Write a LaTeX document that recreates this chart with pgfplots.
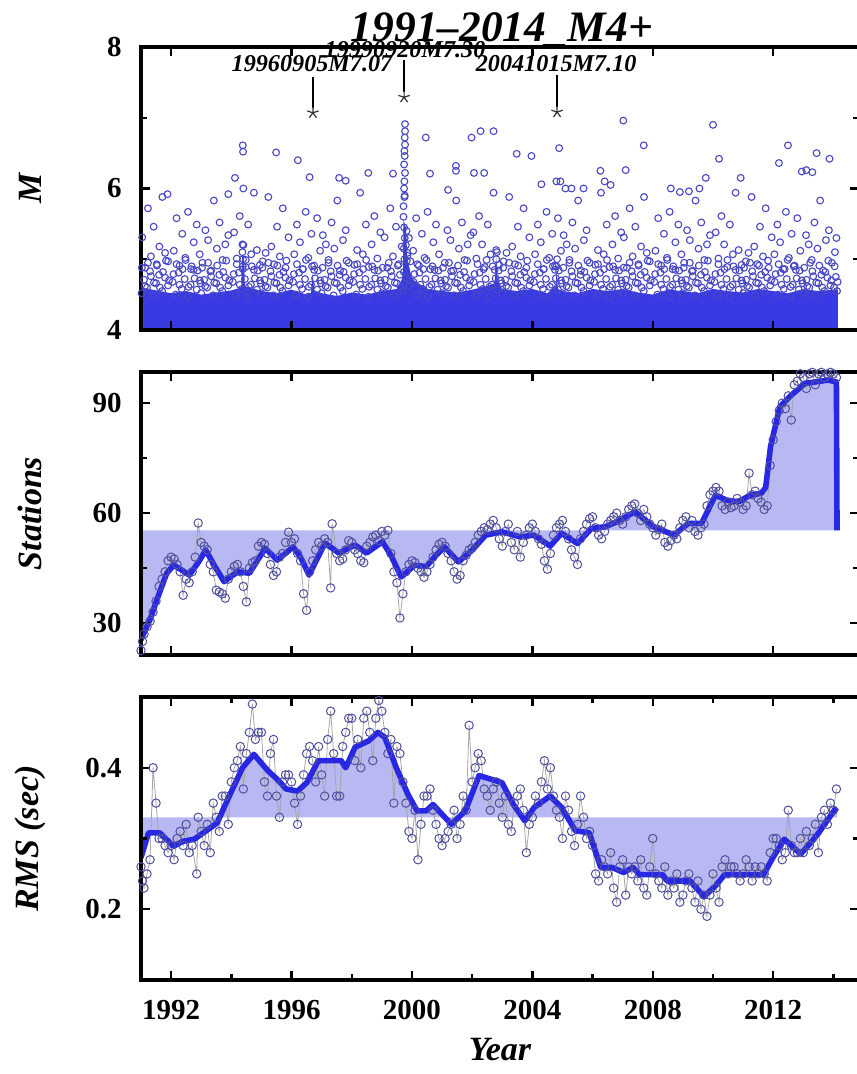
\documentclass[border=0pt]{standalone}
\usepackage{fontspec}
\setmainfont{Liberation Serif}
\usepackage{pgfplots}
\usepackage{pgfplotstable}
\pgfplotsset{compat=1.18}

\definecolor{cblue}{RGB}{40,40,228}
\definecolor{band}{RGB}{184,184,242}
\definecolor{mk}{RGB}{80,80,160}
\definecolor{mk1}{RGB}{72,72,196}
\definecolor{dense}{RGB}{58,58,228}
\definecolor{thinln}{RGB}{165,165,165}

\pgfplotstableread{
x y
1991.0 25.5
1991.3 31
1991.6 38
1991.85 43.5
1992.08 45.8
1992.35 44.5
1992.6 43.1
1992.9 46.5
1993.15 49.9
1993.45 45.5
1993.76 41.3
1994.0 42.8
1994.22 44
1994.6 43.6
1994.9 47.5
1995.13 50.4
1995.52 47.2
1995.8 49
1996.05 50.8
1996.3 48
1996.58 43.1
1996.85 47.5
1997.11 51.8
1997.58 49.1
1998.11 51.3
1998.49 49.1
1999.02 52.2
1999.3 48.5
1999.64 42.6
2000.09 45.8
2000.47 45.4
2000.8 48.5
2001.08 50.8
2001.54 46.7
2002.0 49.9
2002.45 54
2002.99 54.9
2003.6 53.5
2004.05 54
2004.59 51
2004.97 54.5
2005.5 51.7
2005.96 55.8
2006.42 56.3
2006.8 57.6
2007.41 60.4
2008.02 56.3
2008.71 54
2009.17 57.2
2009.62 57.2
2010.08 64.9
2010.47 63.5
2010.85 63.1
2011.23 64.9
2011.6 65.4
2011.75 67
2011.91 78.1
2012.22 89
2012.6 92.2
2013.06 95.4
2013.82 96.3
2014.1 95.8
2014.12 55.3
}\curveS

\pgfplotstableread{
x y
1991.0 55.3
1991.0 25.5
1991.3 31
1991.6 38
1991.85 43.5
1992.08 45.8
1992.35 44.5
1992.6 43.1
1992.9 46.5
1993.15 49.9
1993.45 45.5
1993.76 41.3
1994.0 42.8
1994.22 44
1994.6 43.6
1994.9 47.5
1995.13 50.4
1995.52 47.2
1995.8 49
1996.05 50.8
1996.3 48
1996.58 43.1
1996.85 47.5
1997.11 51.8
1997.58 49.1
1998.11 51.3
1998.49 49.1
1999.02 52.2
1999.3 48.5
1999.64 42.6
2000.09 45.8
2000.47 45.4
2000.8 48.5
2001.08 50.8
2001.54 46.7
2002.0 49.9
2002.45 54
2002.99 54.9
2003.6 53.5
2004.05 54
2004.59 51
2004.97 54.5
2005.5 51.7
2005.96 55.8
2006.42 56.3
2006.8 57.6
2007.41 60.4
2008.02 56.3
2008.71 54
2009.17 57.2
2009.62 57.2
2010.08 64.9
2010.47 63.5
2010.85 63.1
2011.23 64.9
2011.6 65.4
2011.75 67
2011.91 78.1
2012.22 89
2012.6 92.2
2013.06 95.4
2013.82 96.3
2014.1 95.8
2014.12 55.3
}\bandS

\pgfplotstableread{
x y
1991.0 22.5
1991.05 25
1991.1 27
1991.2 29
1991.3 30.5
1991.4 33
1991.5 36
1991.6 40
1991.7 42
1991.8 44
1991.9 47
1992.0 48
1992.1 47.5
1992.2 46
1992.3 44
1992.4 37.6
1992.5 42
1992.6 41
1992.7 44
1992.8 48
1992.9 57.3
1993.0 52
1993.1 51
1993.2 50
1993.3 46
1993.4 44
1993.5 39
1993.6 38.5
1993.7 38
1993.8 36.8
1993.9 42
1994.0 44
1994.1 45.5
1994.2 46
1994.3 44
1994.4 40
1994.5 35.8
1994.6 45
1994.7 46.5
1994.8 47
1994.9 51
1995.0 52
1995.1 51.5
1995.2 49
1995.3 46
1995.4 43
1995.5 44
1995.6 48
1995.7 49
1995.8 52
1995.9 54.8
1996.0 52
1996.1 53
1996.2 49
1996.3 47
1996.4 38
1996.5 33.5
1996.6 44
1996.7 47
1996.8 50
1996.9 52
1997.0 51
1997.1 53
1997.2 52
1997.3 39.6
1997.35 57.1
1997.5 49
1997.6 47
1997.7 47.5
1997.8 50
1997.9 52.5
1998.0 52
1998.1 50
1998.2 49
1998.3 47
1998.4 46.5
1998.5 51
1998.6 52
1998.7 53.5
1998.8 54
1998.9 52.5
1999.0 55
1999.1 54
1999.2 55.3
1999.3 49
1999.4 44
1999.5 41
1999.6 31.4
1999.7 38
1999.8 44
1999.9 46
2000.0 47
2000.1 46.5
2000.2 45
2000.3 44
2000.4 42.5
2000.5 44
2000.6 46
2000.7 48
2000.8 50
2000.9 51.5
2001.0 52
2001.1 51
2001.2 49
2001.3 47
2001.4 44
2001.5 42
2001.6 43
2001.7 47
2001.8 48.5
2001.9 50
2002.0 50.5
2002.1 52
2002.2 54
2002.3 55
2002.4 56
2002.5 55.5
2002.6 57
2002.7 58
2002.8 56
2002.9 53
2003.0 51
2003.1 55
2003.2 57
2003.3 52
2003.4 50
2003.5 55
2003.6 48
2003.7 52
2003.8 54
2003.9 56
2004.0 57
2004.1 55
2004.2 53
2004.3 51.5
2004.4 47
2004.5 44.7
2004.6 49
2004.7 54
2004.8 56
2004.9 57
2005.0 58
2005.1 55
2005.2 53
2005.3 50
2005.4 48
2005.5 46
2005.6 53
2005.7 55
2005.8 57
2005.9 58.5
2006.0 59
2006.1 56
2006.2 54
2006.3 53
2006.4 55
2006.5 57
2006.6 58
2006.7 59
2006.8 60
2006.9 58
2007.0 57
2007.1 59
2007.2 61
2007.3 62
2007.4 62.5
2007.5 60
2007.6 58
2007.7 61
2007.8 59
2007.9 57
2008.0 56
2008.1 54
2008.2 55.5
2008.3 57
2008.4 52
2008.5 51
2008.6 52.5
2008.7 54
2008.8 53
2008.9 56
2009.0 58
2009.1 59
2009.2 56
2009.3 58
2009.4 55
2009.5 54
2009.6 56
2009.7 57
2009.8 62
2009.9 65
2010.0 66
2010.1 67
2010.2 66
2010.3 62
2010.4 61
2010.5 63
2010.6 61.5
2010.7 62
2010.8 64
2010.9 63
2011.0 61
2011.1 62
2011.2 70.9
2011.3 65
2011.4 66
2011.5 64
2011.6 63
2011.7 61
2011.8 62
2011.9 73
2012.0 80
2012.1 85
2012.2 88
2012.3 90
2012.4 88.5
2012.5 92
2012.6 85.4
2012.7 95
2012.8 96
2012.9 98
2013.0 97
2013.1 94
2013.2 98
2013.3 98.4
2013.4 95
2013.5 98
2013.6 98.4
2013.7 97
2013.8 98
2013.9 98.4
2014.0 98
2014.1 97
}\ptsS

\pgfplotstableread{
x y
1991.0 0.273
1991.25 0.308
1991.62 0.308
1992.08 0.289
1992.39 0.296
1992.77 0.299
1993.07 0.308
1993.53 0.322
1993.91 0.358
1994.37 0.400
1994.75 0.419
1995.21 0.396
1995.52 0.384
1995.82 0.370
1996.2 0.367
1996.51 0.379
1996.89 0.41
1997.65 0.41
1997.8 0.40
1998.11 0.429
1998.56 0.438
1998.87 0.45
1999.1 0.443
1999.48 0.40
1999.86 0.363
2000.17 0.339
2000.47 0.339
2000.7 0.348
2001.31 0.32
2001.77 0.339
2002.23 0.389
2002.99 0.379
2003.37 0.348
2003.75 0.325
2004.06 0.344
2004.59 0.36
2004.97 0.344
2005.43 0.311
2005.89 0.308
2006.27 0.259
2006.65 0.259
2007.03 0.252
2007.34 0.259
2007.56 0.249
2008.32 0.249
2008.48 0.240
2009.24 0.240
2009.7 0.218
2010.08 0.233
2010.39 0.249
2011.68 0.249
2011.99 0.273
2012.37 0.299
2012.91 0.278
2013.21 0.292
2013.51 0.308
2013.82 0.327
2014.05 0.341
2014.12 0.338
}\curveR

\pgfplotstableread{
x y
1991.0 0.33
1991.0 0.273
1991.25 0.308
1991.62 0.308
1992.08 0.289
1992.39 0.296
1992.77 0.299
1993.07 0.308
1993.53 0.322
1993.91 0.358
1994.37 0.400
1994.75 0.419
1995.21 0.396
1995.52 0.384
1995.82 0.370
1996.2 0.367
1996.51 0.379
1996.89 0.41
1997.65 0.41
1997.8 0.40
1998.11 0.429
1998.56 0.438
1998.87 0.45
1999.1 0.443
1999.48 0.40
1999.86 0.363
2000.17 0.339
2000.47 0.339
2000.7 0.348
2001.31 0.32
2001.77 0.339
2002.23 0.389
2002.99 0.379
2003.37 0.348
2003.75 0.325
2004.06 0.344
2004.59 0.36
2004.97 0.344
2005.43 0.311
2005.89 0.308
2006.27 0.259
2006.65 0.259
2007.03 0.252
2007.34 0.259
2007.56 0.249
2008.32 0.249
2008.48 0.240
2009.24 0.240
2009.7 0.218
2010.08 0.233
2010.39 0.249
2011.68 0.249
2011.99 0.273
2012.37 0.299
2012.91 0.278
2013.21 0.292
2013.51 0.308
2013.82 0.327
2014.05 0.341
2014.12 0.338
2014.12 0.33
}\bandR

\pgfplotstableread{
x y
1991.0 0.26
1991.05 0.24
1991.1 0.23
1991.2 0.25
1991.3 0.27
1991.4 0.40
1991.5 0.35
1991.6 0.30
1991.7 0.30
1991.8 0.29
1991.9 0.28
1992.0 0.29
1992.1 0.27
1992.2 0.30
1992.3 0.31
1992.4 0.29
1992.5 0.32
1992.6 0.28
1992.7 0.29
1992.85 0.25
1992.9 0.33
1993.0 0.31
1993.1 0.29
1993.2 0.32
1993.3 0.28
1993.4 0.35
1993.5 0.33
1993.6 0.31
1993.7 0.36
1993.8 0.36
1993.9 0.32
1994.0 0.38
1994.1 0.40
1994.2 0.41
1994.3 0.43
1994.4 0.37
1994.5 0.42
1994.6 0.45
1994.7 0.49
1994.8 0.44
1994.9 0.45
1995.0 0.45
1995.1 0.38
1995.2 0.36
1995.3 0.42
1995.4 0.44
1995.5 0.36
1995.6 0.33
1995.7 0.38
1995.8 0.39
1995.9 0.39
1996.0 0.38
1996.1 0.35
1996.2 0.32
1996.3 0.36
1996.4 0.39
1996.5 0.42
1996.6 0.43
1996.7 0.41
1996.8 0.38
1996.9 0.43
1997.0 0.39
1997.1 0.36
1997.2 0.44
1997.3 0.48
1997.4 0.42
1997.5 0.36
1997.6 0.36
1997.7 0.43
1997.8 0.45
1997.9 0.47
1998.0 0.47
1998.1 0.41
1998.2 0.44
1998.3 0.40
1998.4 0.47
1998.5 0.48
1998.6 0.45
1998.7 0.41
1998.8 0.47
1998.9 0.495
1999.0 0.48
1999.1 0.45
1999.2 0.42
1999.3 0.44
1999.4 0.35
1999.5 0.43
1999.6 0.42
1999.7 0.38
1999.8 0.35
1999.9 0.31
2000.0 0.30
2000.1 0.34
2000.2 0.27
2000.3 0.32
2000.4 0.36
2000.5 0.36
2000.6 0.37
2000.7 0.34
2000.8 0.32
2000.9 0.30
2001.0 0.29
2001.1 0.30
2001.2 0.31
2001.3 0.32
2001.4 0.34
2001.5 0.30
2001.6 0.32
2001.7 0.36
2001.8 0.34
2001.9 0.46
2002.0 0.38
2002.1 0.40
2002.2 0.42
2002.3 0.41
2002.4 0.37
2002.5 0.36
2002.6 0.34
2002.7 0.37
2002.8 0.38
2002.9 0.35
2003.0 0.33
2003.1 0.36
2003.2 0.32
2003.3 0.31
2003.4 0.35
2003.5 0.36
2003.6 0.37
2003.7 0.34
2003.8 0.28
2003.9 0.32
2004.0 0.33
2004.1 0.36
2004.2 0.35
2004.3 0.38
2004.4 0.41
2004.5 0.37
2004.6 0.40
2004.7 0.36
2004.8 0.34
2004.9 0.33
2005.0 0.30
2005.1 0.36
2005.2 0.34
2005.3 0.31
2005.4 0.29
2005.5 0.32
2005.6 0.36
2005.7 0.33
2005.8 0.30
2005.9 0.31
2006.0 0.29
2006.1 0.25
2006.2 0.24
2006.3 0.27
2006.4 0.26
2006.5 0.25
2006.6 0.28
2006.7 0.23
2006.8 0.21
2006.9 0.26
2007.0 0.27
2007.1 0.22
2007.2 0.26
2007.3 0.25
2007.4 0.26
2007.5 0.24
2007.6 0.27
2007.7 0.23
2007.8 0.22
2007.9 0.26
2008.0 0.30
2008.1 0.25
2008.2 0.24
2008.3 0.23
2008.4 0.26
2008.5 0.22
2008.6 0.24
2008.7 0.23
2008.8 0.25
2008.9 0.21
2009.0 0.22
2009.1 0.24
2009.2 0.25
2009.3 0.23
2009.4 0.21
2009.5 0.24
2009.6 0.20
2009.7 0.22
2009.8 0.19
2009.9 0.22
2010.0 0.25
2010.1 0.23
2010.2 0.21
2010.3 0.26
2010.4 0.27
2010.5 0.25
2010.6 0.26
2010.7 0.26
2010.8 0.25
2010.9 0.24
2011.0 0.25
2011.1 0.27
2011.2 0.26
2011.3 0.24
2011.4 0.26
2011.5 0.25
2011.6 0.26
2011.7 0.25
2011.8 0.24
2011.9 0.28
2012.0 0.30
2012.1 0.30
2012.2 0.29
2012.3 0.27
2012.4 0.28
2012.5 0.34
2012.6 0.29
2012.7 0.28
2012.8 0.28
2012.9 0.30
2013.0 0.28
2013.1 0.31
2013.2 0.29
2013.3 0.30
2013.4 0.32
2013.5 0.28
2013.6 0.33
2013.7 0.34
2013.8 0.32
2013.9 0.35
2014.0 0.34
2014.1 0.37
}\ptsR

\pgfplotsset{
  base/.style={
    scale only axis, width=359pt, height=141.5pt,
    xmin=1991, xmax=2014.85,
    axis on top,
    axis line style={line width=1.6pt},
    every tick/.append style={black, line width=1.2pt},
    major tick length=4.5pt, minor tick length=3pt,
    tick align=inside,
    xtick={1992,1996,...,2012},
    /pgf/number format/assume math mode=true,
    /pgf/number format/1000 sep={},
    tick label style={font=\fontsize{14.5}{16}\selectfont\bfseries},
    yticklabel style={anchor=east, inner sep=0pt, xshift=-9.5pt},
    xticklabel style={anchor=north, inner sep=0pt, yshift=-10pt},
    ylabel style={at={(axis description cs:-0.1546,0.5)}, anchor=center, font=\fontsize{17}{19}\selectfont\bfseries\itshape},
    xlabel style={at={(axis description cs:0.5,-0.247)}, anchor=center, font=\fontsize{17}{19}\selectfont\bfseries\itshape},
  },
  scat/.style={only marks, mark=o, mark size=1.7pt, mark options={draw=mk1, line width=0.55pt}},
}
\tikzset{ann/.style={font=\fontsize{12.1}{13}\selectfont\bfseries\itshape, anchor=center, inner sep=0pt}}

\begin{document}
\begin{tikzpicture}
\path[use as bounding box] (0,0) rectangle (428pt,-537pt);

% ---------------- Panel 1: magnitude ----------------
\begin{axis}[base, at={(70.5pt,-23.5pt)}, anchor=north west,
  ymin=4, ymax=8, ytick={4,6,8}, minor ytick={5,7},
  xticklabels={}, ylabel={M}, clip=false]
% dense cloud of small events
\addplot[fill=dense, draw=none] coordinates {
(1991,4) (1991,4.6)(1991.5,4.56)(1992,4.52)(1992.5,4.55)(1993,4.5)(1993.5,4.53)(1994,4.56)(1994.33,4.6)(1994.36,5.05)(1994.42,5.05)(1994.45,4.62)(1995,4.55)(1995.5,4.52)(1996,4.57)(1996.5,4.5)(1996.65,4.53)(1996.7,4.8)(1996.75,4.56)(1997,4.52)(1997.5,4.48)(1998,4.53)(1998.5,4.5)(1999,4.55)(1999.5,4.58)(1999.7,4.75)(1999.72,5.55)(1999.8,5.45)(1999.85,5.0)(2000,4.72)(2000.5,4.58)(2001,4.55)(2001.5,4.53)(2002,4.57)(2002.5,4.62)(2002.75,4.66)(2002.8,5.02)(2002.85,4.7)(2003,4.58)(2003.5,4.55)(2004,4.58)(2004.5,4.52)(2004.78,4.62)(2004.8,4.85)(2004.85,4.58)(2005,4.55)(2005.5,4.52)(2006,4.58)(2006.5,4.55)(2007,4.58)(2007.5,4.53)(2008,4.5)(2008.5,4.57)(2009,4.55)(2009.5,4.52)(2010,4.58)(2010.5,4.55)(2011,4.53)(2011.5,4.58)(2012,4.55)(2012.5,4.52)(2013,4.58)(2013.5,4.55)(2014,4.57)(2014.15,4.57)(2014.15,4)
};
% low-level events
\addplot[scat] coordinates {
(1991.02,4.52)(1991.1,4.71)(1991.2,4.6)(1991.3,4.83)(1991.4,4.49)(1991.5,4.66)(1991.6,4.78)(1991.7,4.55)(1991.8,4.74)(1991.9,4.63)
(1992.05,4.68)(1992.15,4.5)(1992.25,4.81)(1992.35,4.58)(1992.45,4.72)(1992.55,4.47)(1992.65,4.64)(1992.75,4.85)(1992.85,4.57)(1992.95,4.7)
(1993.0,4.52)(1993.1,4.71)(1993.2,4.6)(1993.3,4.83)(1993.4,4.49)(1993.5,4.66)(1993.6,4.78)(1993.7,4.55)(1993.8,4.74)(1993.9,4.63)
(1994.05,4.68)(1994.15,4.5)(1994.25,4.81)(1994.35,4.58)(1994.45,4.72)(1994.55,4.47)(1994.65,4.64)(1994.75,4.85)(1994.85,4.57)(1994.95,4.7)
(1995.0,4.52)(1995.1,4.71)(1995.2,4.6)(1995.3,4.83)(1995.4,4.49)(1995.5,4.66)(1995.6,4.78)(1995.7,4.55)(1995.8,4.74)(1995.9,4.63)
(1996.05,4.68)(1996.15,4.5)(1996.25,4.81)(1996.35,4.58)(1996.45,4.72)(1996.55,4.47)(1996.65,4.64)(1996.75,4.85)(1996.85,4.57)(1996.95,4.7)
(1997.0,4.52)(1997.1,4.71)(1997.2,4.6)(1997.3,4.83)(1997.4,4.49)(1997.5,4.66)(1997.6,4.78)(1997.7,4.55)(1997.8,4.74)(1997.9,4.63)
(1998.05,4.68)(1998.15,4.5)(1998.25,4.81)(1998.35,4.58)(1998.45,4.72)(1998.55,4.47)(1998.65,4.64)(1998.75,4.85)(1998.85,4.57)(1998.95,4.7)
(1999.0,4.52)(1999.1,4.71)(1999.2,4.6)(1999.3,4.83)(1999.4,4.49)(1999.5,4.66)(1999.6,4.78)(1999.7,4.55)(1999.8,4.74)(1999.9,4.63)
(2000.05,4.68)(2000.15,4.5)(2000.25,4.81)(2000.35,4.58)(2000.45,4.72)(2000.55,4.47)(2000.65,4.64)(2000.75,4.85)(2000.85,4.57)(2000.95,4.7)
(2001.0,4.52)(2001.1,4.71)(2001.2,4.6)(2001.3,4.83)(2001.4,4.49)(2001.5,4.66)(2001.6,4.78)(2001.7,4.55)(2001.8,4.74)(2001.9,4.63)
(2002.05,4.68)(2002.15,4.5)(2002.25,4.81)(2002.35,4.58)(2002.45,4.72)(2002.55,4.47)(2002.65,4.64)(2002.75,4.85)(2002.85,4.57)(2002.95,4.7)
(2003.0,4.52)(2003.1,4.71)(2003.2,4.6)(2003.3,4.83)(2003.4,4.49)(2003.5,4.66)(2003.6,4.78)(2003.7,4.55)(2003.8,4.74)(2003.9,4.63)
(2004.05,4.68)(2004.15,4.5)(2004.25,4.81)(2004.35,4.58)(2004.45,4.72)(2004.55,4.47)(2004.65,4.64)(2004.75,4.85)(2004.85,4.57)(2004.95,4.7)
(2005.0,4.52)(2005.1,4.71)(2005.2,4.6)(2005.3,4.83)(2005.4,4.49)(2005.5,4.66)(2005.6,4.78)(2005.7,4.55)(2005.8,4.74)(2005.9,4.63)
(2006.05,4.68)(2006.15,4.5)(2006.25,4.81)(2006.35,4.58)(2006.45,4.72)(2006.55,4.47)(2006.65,4.64)(2006.75,4.85)(2006.85,4.57)(2006.95,4.7)
(2007.0,4.52)(2007.1,4.71)(2007.2,4.6)(2007.3,4.83)(2007.4,4.49)(2007.5,4.66)(2007.6,4.78)(2007.7,4.55)(2007.8,4.74)(2007.9,4.63)
(2008.05,4.68)(2008.15,4.5)(2008.25,4.81)(2008.35,4.58)(2008.45,4.72)(2008.55,4.47)(2008.65,4.64)(2008.75,4.85)(2008.85,4.57)(2008.95,4.7)
(2009.0,4.52)(2009.1,4.71)(2009.2,4.6)(2009.3,4.83)(2009.4,4.49)(2009.5,4.66)(2009.6,4.78)(2009.7,4.55)(2009.8,4.74)(2009.9,4.63)
(2010.05,4.68)(2010.15,4.5)(2010.25,4.81)(2010.35,4.58)(2010.45,4.72)(2010.55,4.47)(2010.65,4.64)(2010.75,4.85)(2010.85,4.57)(2010.95,4.7)
(2011.0,4.52)(2011.1,4.71)(2011.2,4.6)(2011.3,4.83)(2011.4,4.49)(2011.5,4.66)(2011.6,4.78)(2011.7,4.55)(2011.8,4.74)(2011.9,4.63)
(2012.05,4.68)(2012.15,4.5)(2012.25,4.81)(2012.35,4.58)(2012.45,4.72)(2012.55,4.47)(2012.65,4.64)(2012.75,4.85)(2012.85,4.57)(2012.95,4.7)
(2013.0,4.52)(2013.1,4.71)(2013.2,4.6)(2013.3,4.83)(2013.4,4.49)(2013.5,4.66)(2013.6,4.78)(2013.7,4.55)(2013.8,4.74)(2013.9,4.63)
(2014.02,4.6)(2014.05,5.1)(2014.08,4.75)(2014.1,5.3)(2014.12,4.55)(2014.04,4.9)(2014.14,4.68)
};
% intermediate events
\addplot[scat] coordinates {
(1991.03,4.88)(1991.13,4.62)(1991.23,4.95)(1991.33,4.76)(1991.43,4.67)(1991.53,4.91)(1991.63,4.6)(1991.73,4.82)(1991.83,4.98)(1991.93,4.7)
(1992.08,4.79)(1992.18,4.93)(1992.28,4.64)(1992.38,4.86)(1992.48,4.99)(1992.58,4.61)(1992.68,4.9)(1992.78,4.73)(1992.88,4.84)(1992.98,4.66)
(1993.03,4.88)(1993.13,4.62)(1993.23,4.95)(1993.33,4.76)(1993.43,4.67)(1993.53,4.91)(1993.63,4.6)(1993.73,4.82)(1993.83,4.98)(1993.93,4.7)
(1994.08,4.79)(1994.18,4.93)(1994.28,4.64)(1994.38,4.86)(1994.48,4.99)(1994.58,4.61)(1994.68,4.9)(1994.78,4.73)(1994.88,4.84)(1994.98,4.66)
(1995.03,4.88)(1995.13,4.62)(1995.23,4.95)(1995.33,4.76)(1995.43,4.67)(1995.53,4.91)(1995.63,4.6)(1995.73,4.82)(1995.83,4.98)(1995.93,4.7)
(1996.08,4.79)(1996.18,4.93)(1996.28,4.64)(1996.38,4.86)(1996.48,4.99)(1996.58,4.61)(1996.68,4.9)(1996.78,4.73)(1996.88,4.84)(1996.98,4.66)
(1997.03,4.88)(1997.13,4.62)(1997.23,4.95)(1997.33,4.76)(1997.43,4.67)(1997.53,4.91)(1997.63,4.6)(1997.73,4.82)(1997.83,4.98)(1997.93,4.7)
(1998.08,4.79)(1998.18,4.93)(1998.28,4.64)(1998.38,4.86)(1998.48,4.99)(1998.58,4.61)(1998.68,4.9)(1998.78,4.73)(1998.88,4.84)(1998.98,4.66)
(1999.03,4.88)(1999.13,4.62)(1999.23,4.95)(1999.33,4.76)(1999.43,4.67)(1999.53,4.91)(1999.63,4.6)(1999.73,4.82)(1999.83,4.98)(1999.93,4.7)
(2000.08,4.79)(2000.18,4.93)(2000.28,4.64)(2000.38,4.86)(2000.48,4.99)(2000.58,4.61)(2000.68,4.9)(2000.78,4.73)(2000.88,4.84)(2000.98,4.66)
(2001.03,4.88)(2001.13,4.62)(2001.23,4.95)(2001.33,4.76)(2001.43,4.67)(2001.53,4.91)(2001.63,4.6)(2001.73,4.82)(2001.83,4.98)(2001.93,4.7)
(2002.08,4.79)(2002.18,4.93)(2002.28,4.64)(2002.38,4.86)(2002.48,4.99)(2002.58,4.61)(2002.68,4.9)(2002.78,4.73)(2002.88,4.84)(2002.98,4.66)
(2003.03,4.88)(2003.13,4.62)(2003.23,4.95)(2003.33,4.76)(2003.43,4.67)(2003.53,4.91)(2003.63,4.6)(2003.73,4.82)(2003.83,4.98)(2003.93,4.7)
(2004.08,4.79)(2004.18,4.93)(2004.28,4.64)(2004.38,4.86)(2004.48,4.99)(2004.58,4.61)(2004.68,4.9)(2004.78,4.73)(2004.88,4.84)(2004.98,4.66)
(2005.03,4.88)(2005.13,4.62)(2005.23,4.95)(2005.33,4.76)(2005.43,4.67)(2005.53,4.91)(2005.63,4.6)(2005.73,4.82)(2005.83,4.98)(2005.93,4.7)
(2006.08,4.79)(2006.18,4.93)(2006.28,4.64)(2006.38,4.86)(2006.48,4.99)(2006.58,4.61)(2006.68,4.9)(2006.78,4.73)(2006.88,4.84)(2006.98,4.66)
(2007.03,4.88)(2007.13,4.62)(2007.23,4.95)(2007.33,4.76)(2007.43,4.67)(2007.53,4.91)(2007.63,4.6)(2007.73,4.82)(2007.83,4.98)(2007.93,4.7)
(2008.08,4.79)(2008.18,4.93)(2008.28,4.64)(2008.38,4.86)(2008.48,4.99)(2008.58,4.61)(2008.68,4.9)(2008.78,4.73)(2008.88,4.84)(2008.98,4.66)
(2009.03,4.88)(2009.13,4.62)(2009.23,4.95)(2009.33,4.76)(2009.43,4.67)(2009.53,4.91)(2009.63,4.6)(2009.73,4.82)(2009.83,4.98)(2009.93,4.7)
(2010.08,4.79)(2010.18,4.93)(2010.28,4.64)(2010.38,4.86)(2010.48,4.99)(2010.58,4.61)(2010.68,4.9)(2010.78,4.73)(2010.88,4.84)(2010.98,4.66)
(2011.03,4.88)(2011.13,4.62)(2011.23,4.95)(2011.33,4.76)(2011.43,4.67)(2011.53,4.91)(2011.63,4.6)(2011.73,4.82)(2011.83,4.98)(2011.93,4.7)
(2012.08,4.79)(2012.18,4.93)(2012.28,4.64)(2012.38,4.86)(2012.48,4.99)(2012.58,4.61)(2012.68,4.9)(2012.78,4.73)(2012.88,4.84)(2012.98,4.66)
(2013.03,4.88)(2013.13,4.62)(2013.23,4.95)(2013.33,4.76)(2013.43,4.67)(2013.53,4.91)(2013.63,4.6)(2013.73,4.82)(2013.83,4.98)(2013.93,4.7)
};
% larger events
\addplot[scat] coordinates {
(1991.04,5.31)(1991.14,4.88)(1991.23,5.72)(1991.33,5.04)(1991.42,5.46)(1991.52,4.93)(1991.61,5.18)(1991.71,5.88)(1991.80,5.09)(1991.90,4.97)
(1992.09,5.12)(1992.18,5.58)(1992.28,4.91)(1992.37,5.36)(1992.47,5.02)(1992.56,5.67)(1992.66,4.86)(1992.75,5.24)(1992.85,5.49)(1992.95,5.07)
(1993.04,4.95)(1993.14,5.41)(1993.23,5.27)(1993.33,4.84)(1993.42,5.83)(1993.52,5.15)(1993.61,5.52)(1993.71,4.99)(1993.80,5.21)(1993.90,5.34)
(1994.09,5.38)(1994.18,5.01)(1994.28,5.61)(1994.37,5.21)(1994.47,4.89)(1994.56,5.49)(1994.66,5.07)(1994.75,5.94)(1994.85,5.13)(1994.95,4.92)
(1995.04,4.97)(1995.14,5.09)(1995.23,5.88)(1995.33,5.18)(1995.42,4.93)(1995.52,5.46)(1995.61,5.04)(1995.71,5.72)(1995.80,4.88)(1995.90,5.31)
(1996.09,5.07)(1996.18,5.49)(1996.28,5.24)(1996.37,4.86)(1996.47,5.67)(1996.56,5.02)(1996.66,5.36)(1996.75,4.91)(1996.85,5.58)(1996.95,5.12)
(1997.04,5.34)(1997.14,5.21)(1997.23,4.99)(1997.33,5.52)(1997.42,5.15)(1997.52,5.83)(1997.61,4.84)(1997.71,5.27)(1997.80,5.41)(1997.90,4.95)
(1998.09,4.92)(1998.18,5.13)(1998.28,5.94)(1998.37,5.07)(1998.47,5.49)(1998.56,4.89)(1998.66,5.21)(1998.75,5.61)(1998.85,5.01)(1998.95,5.38)
(1999.09,5.31)(1999.18,4.88)(1999.28,5.72)(1999.37,5.04)(1999.47,5.46)(1999.56,4.93)(1999.66,5.18)(1999.75,5.88)(1999.85,5.09)(1999.95,4.97)
(2000.04,5.12)(2000.14,5.58)(2000.23,4.91)(2000.33,5.36)(2000.42,5.02)(2000.52,5.67)(2000.61,4.86)(2000.71,5.24)(2000.80,5.49)(2000.90,5.07)
(2001.09,4.95)(2001.18,5.41)(2001.28,5.27)(2001.37,4.84)(2001.47,5.83)(2001.56,5.15)(2001.66,5.52)(2001.75,4.99)(2001.85,5.21)(2001.95,5.34)
(2002.04,5.38)(2002.14,5.01)(2002.23,5.61)(2002.33,5.21)(2002.42,4.89)(2002.52,5.49)(2002.61,5.07)(2002.71,5.94)(2002.80,5.13)(2002.90,4.92)
(2003.04,4.97)(2003.14,5.09)(2003.23,5.88)(2003.33,5.18)(2003.42,4.93)(2003.52,5.46)(2003.61,5.04)(2003.71,5.72)(2003.80,4.88)(2003.90,5.31)
(2004.09,5.07)(2004.18,5.49)(2004.28,5.24)(2004.37,4.86)(2004.47,5.67)(2004.56,5.02)(2004.66,5.36)(2004.75,4.91)(2004.85,5.58)(2004.95,5.12)
(2005.04,5.34)(2005.14,5.21)(2005.23,4.99)(2005.33,5.52)(2005.42,5.15)(2005.52,5.83)(2005.61,4.84)(2005.71,5.27)(2005.80,5.41)(2005.90,4.95)
(2006.09,4.92)(2006.18,5.13)(2006.28,5.94)(2006.37,5.07)(2006.47,5.49)(2006.56,4.89)(2006.66,5.21)(2006.75,5.61)(2006.85,5.01)(2006.95,5.38)
(2007.04,5.31)(2007.14,4.88)(2007.23,5.72)(2007.33,5.04)(2007.42,5.46)(2007.52,4.93)(2007.61,5.18)(2007.71,5.88)(2007.80,5.09)(2007.90,4.97)
(2008.09,5.12)(2008.18,5.58)(2008.28,4.91)(2008.37,5.36)(2008.47,5.02)(2008.56,5.67)(2008.66,4.86)(2008.75,5.24)(2008.85,5.49)(2008.95,5.07)
(2009.04,4.95)(2009.14,5.41)(2009.23,5.27)(2009.33,4.84)(2009.42,5.83)(2009.52,5.15)(2009.61,5.52)(2009.71,4.99)(2009.80,5.21)(2009.90,5.34)
(2010.09,5.38)(2010.18,5.01)(2010.28,5.61)(2010.37,5.21)(2010.47,4.89)(2010.56,5.49)(2010.66,5.07)(2010.75,5.94)(2010.85,5.13)(2010.95,4.92)
(2011.09,4.97)(2011.18,5.09)(2011.28,5.88)(2011.37,5.18)(2011.47,4.93)(2011.56,5.46)(2011.66,5.04)(2011.75,5.72)(2011.85,4.88)(2011.95,5.31)
(2012.04,5.07)(2012.14,5.49)(2012.23,5.24)(2012.33,4.86)(2012.42,5.67)(2012.52,5.02)(2012.61,5.36)(2012.71,4.91)(2012.80,5.58)(2012.90,5.12)
(2013.09,5.34)(2013.18,5.21)(2013.28,4.99)(2013.37,5.52)(2013.47,5.15)(2013.56,5.83)(2013.66,4.84)(2013.75,5.27)(2013.85,5.41)(2013.95,4.95)
(1994.38,6.61)(1994.39,6.52)(1995.49,6.51)(1996.21,6.40)(1994.12,6.15)(1996.6,6.16)
(1999.77,6.91)(1999.77,6.81)(1999.76,6.72)(1999.77,6.62)(1999.75,6.53)(1999.76,6.46)(1999.74,6.34)(1999.77,6.22)(1999.75,6.1)(1999.74,6.0)(1999.76,5.9)(1999.72,5.75)(1999.72,5.6)(1999.74,5.45)(1999.76,5.3)(1999.73,5.15)(1999.75,5.0)(1999.8,5.2)(1999.82,5.4)(1999.85,5.05)(1999.9,5.3)
(2000.46,6.72)(2001.46,6.32)(2001.46,6.25)(2001.98,6.72)(2002.28,6.81)(2002.71,6.81)(2002.06,6.22)(2002.4,6.22)(2000.6,6.21)(1998.55,6.22)(1999.37,6.21)(1997.58,6.15)(1997.8,6.11)(2003.48,6.49)(2003.97,6.46)(2004.89,6.57)(2007.02,6.96)(2007.7,6.61)(2006.26,6.25)(2007.1,6.26)(2010.0,6.9)(2010.2,6.42)(2009.76,6.15)(2009.55,6.0)(2010.92,6.15)(2012.49,6.61)(2012.19,6.36)(2013.44,6.5)(2013.87,6.42)(2012.95,6.24)(2013.1,6.26)(2013.3,6.23)(2004.93,6.1)(2005.1,6.0)(2005.3,6.0)(2005.7,6.0)(2006.4,6.1)(2006.6,6.05)(2008.6,6.0)(2008.9,5.95)(2009.2,5.96)(2004.3,6.06)(2004.8,6.1)(2001.2,5.98)(1991.88,5.92)(1993.9,5.92)(1994.4,6.0)
(1994.38,4.9)(1994.39,5.0)(1994.37,5.1)(1994.4,5.2)(2002.8,5.0)(2002.82,5.1)(2004.8,4.9)(2004.82,5.0)
};
% main shocks
\addplot[black, line width=1pt] coordinates {(1996.71,7.58)(1996.71,7.14)};
\addplot[black, line width=1pt] coordinates {(1999.74,7.82)(1999.74,7.36)};
\addplot[black, line width=1pt] coordinates {(2004.82,7.60)(2004.82,7.15)};
\addplot[only marks, mark=star, mark size=3pt, mark options={black!80, line width=0.6pt}] coordinates {(1996.71,7.07)(1999.74,7.29)(2004.82,7.08)};
\node[ann] at (axis cs:1996.68,7.77) {19960905M7.07};
\node[ann] at (axis cs:1999.77,7.96) {19990920M7.30};
\node[ann] at (axis cs:2004.79,7.77) {20041015M7.10};
\end{axis}

% ---------------- Panel 2: stations ----------------
\begin{axis}[base, at={(70.5pt,-186pt)}, anchor=north west,
  ymin=21.3, ymax=98.5, ytick={30,60,90}, minor ytick={45,75},
  xticklabels={}, ylabel={Stations}]
\addplot[fill=band, draw=none] table {\bandS};
\addplot[color=thinln, line width=0.4pt, mark=o, mark size=2.1pt, mark options={draw=mk, line width=0.5pt}] table {\ptsS};
\addplot[cblue, line width=2.8pt, line join=round] table {\curveS};
\end{axis}

% ---------------- Panel 3: RMS ----------------
\begin{axis}[base, at={(70.5pt,-348.5pt)}, anchor=north west,
  ymin=0.1, ymax=0.5, ytick={0.2,0.4}, minor ytick={0.3},
  minor xtick={1994,1998,...,2014},
  yticklabel style={/pgf/number format/fixed, /pgf/number format/precision=1},
  ylabel={RMS (sec)}, xlabel={Year}]
\addplot[fill=band, draw=none] table {\bandR};
\addplot[color=thinln, line width=0.4pt, mark=o, mark size=2.1pt, mark options={draw=mk, line width=0.5pt}] table {\ptsR};
\addplot[cblue, line width=2.8pt, line join=round] table {\curveR};
\end{axis}

\node[font=\fontsize{21.7}{24}\selectfont\bfseries\itshape, anchor=base, inner sep=0pt] at (251pt,-21pt) {1991–2014\_M4+};
\end{tikzpicture}
\end{document}
